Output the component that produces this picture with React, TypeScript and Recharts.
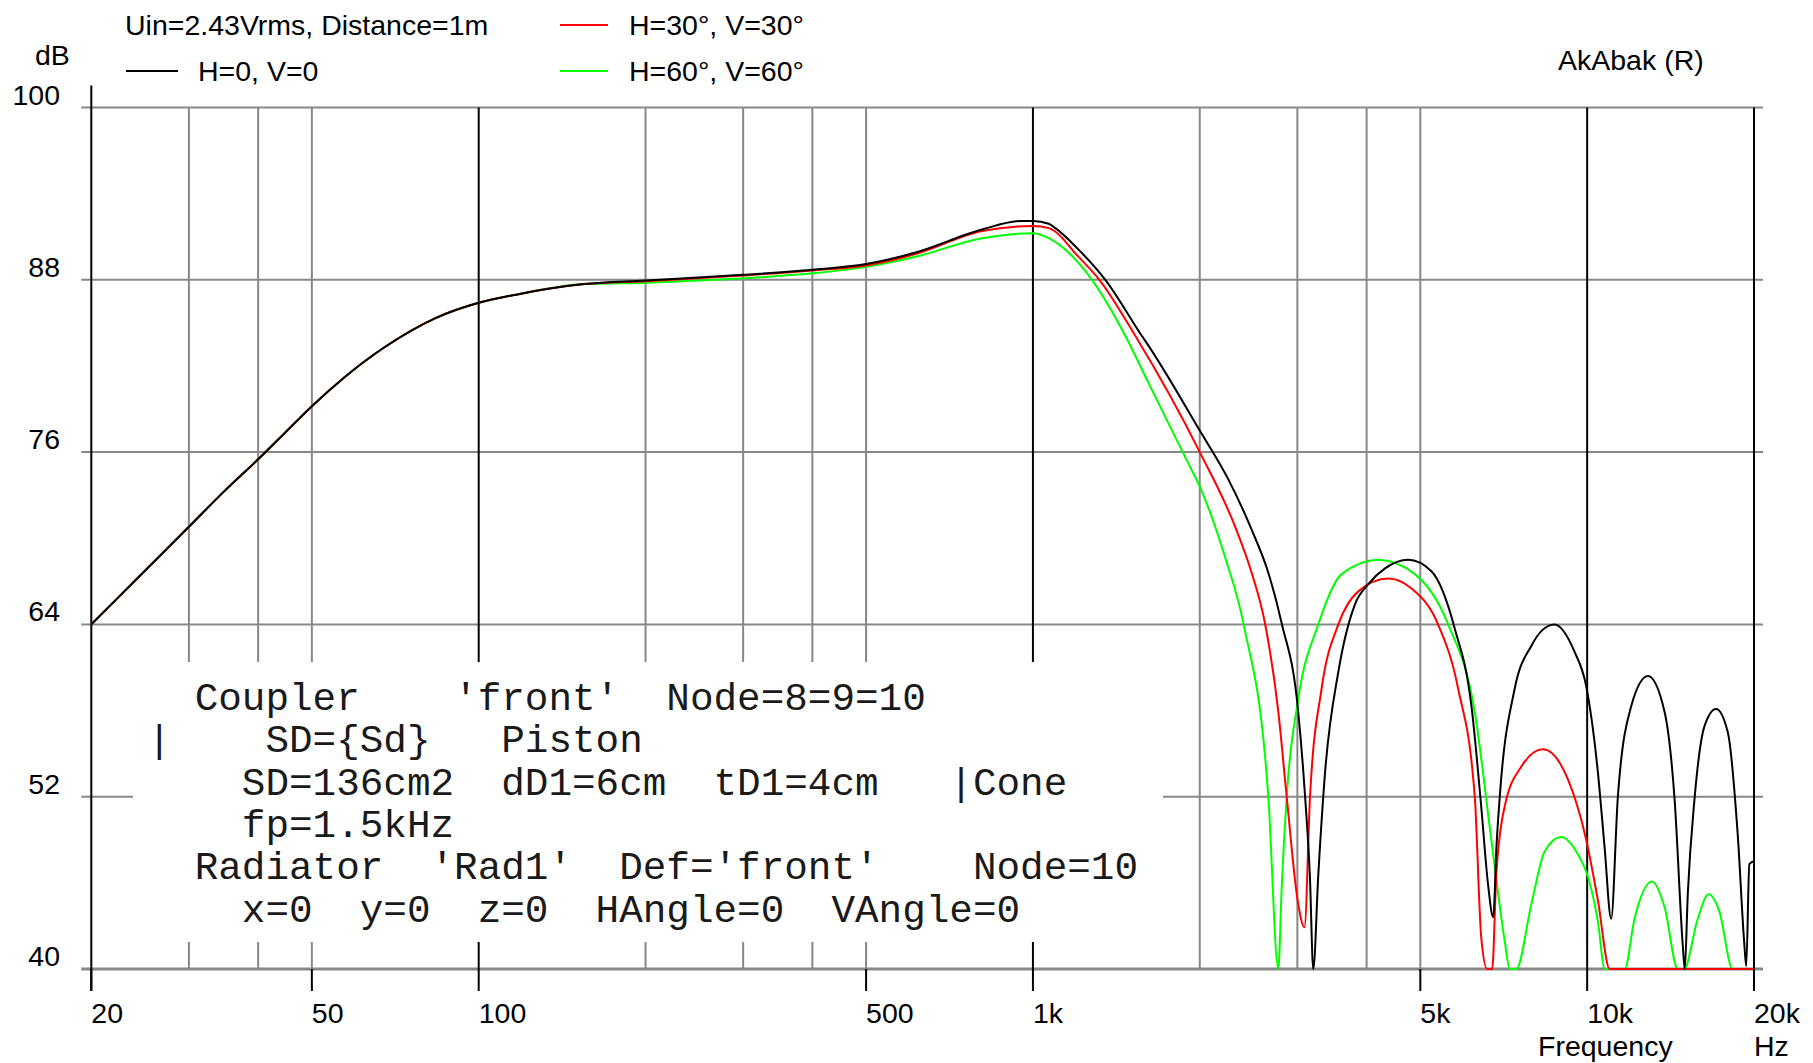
import { LineChart, Line, XAxis, YAxis, ReferenceLine } from 'recharts';

// shared low-frequency part (all three curves coincide there)
const lowFreq = [20, 22.4, 26.8, 30, 34.8, 40, 44.6, 50, 57.2, 67.6, 83.2, 100, 118, 155];
const lowDb = [64, 65.9, 68.9, 70.8, 73.3, 75.5, 77.3, 79.2, 81.2, 83.3, 85.3, 86.4, 87.0, 87.7];

// H=0, V=0
const blackFreq = [200, 300, 400, 500, 614, 809, 955, 1000, 1068, 1098, 1209, 1351, 1572, 1617, 2000, 2252, 2481, 2659, 2810, 3011, 3098, 3160, 3205, 3273, 3366, 3557, 3811, 4028, 4318, 4755, 5236, 5770, 6184, 6440, 6620, 6770, 6860, 6955, 7398, 7929, 8300, 8733, 9488, 9960, 10456, 10750, 11048, 11361, 12007, 12874, 13795, 14381, 14874, 15000, 15189, 15617, 16279, 17082, 17932, 18690, 19215, 19365, 19618, 20000];
const blackDb = [87.95, 88.35, 88.7, 89.1, 89.9, 91.5, 92.1, 92.1, 91.9, 91.6, 90.1, 88.0, 84.1, 83.4, 77.5, 74.1, 70.6, 67.6, 64.1, 57.9, 52, 46.5, 40, 46.6, 53.7, 60.7, 65.4, 66.8, 67.9, 68.5, 67.7, 63.7, 58.3, 51.3, 46, 43.6, 48.5, 52, 59.5, 62.5, 63.6, 64, 62.1, 59.7, 53.7, 48.5, 43.5, 52, 58.3, 60.4, 57.9, 51.8, 41.7, 40, 45.2, 51.8, 56.9, 58.1, 56.5, 49.4, 41.7, 40.2, 47.3, 47.5];

// H=30, V=30
const redFreq = [200, 300, 400, 500, 614, 809, 1000, 1068, 1209, 1318, 1530, 2000, 2317, 2481, 2622, 2772, 2870, 3011, 3090, 3162, 3317, 3557, 3864, 4377, 4819, 5383, 5853, 6269, 6440, 6600, 6740, 6857, 7097, 7608, 8323, 9233, 9960, 10456, 10982, 20000];
const redDb = [87.9, 88.3, 88.65, 89.0, 89.8, 91.4, 91.75, 91.6, 89.6, 88.0, 84.1, 76.0, 70.8, 67.6, 64.1, 57.9, 52, 44.5, 42.9, 52, 59.5, 64, 66.3, 67.2, 66.5, 64, 59.5, 52, 42.2, 40, 40, 46.6, 51.3, 54.1, 55.3, 53.2, 49.0, 44.8, 40, 40];

// H=60, V=60
const greenFreq = [200, 300, 400, 500, 614, 809, 1000, 1068, 1128, 1278, 1468, 1617, 1908, 2000, 2221, 2400, 2659, 2772, 2810, 2870, 3011, 3273, 3605, 4197, 4887, 5613, 6269, 6716, 7097, 7250, 7450, 7929, 8385, 8975, 9621, 10000, 10456, 10757, 11686, 12174, 13089, 13795, 14577, 14955, 15834, 16551, 17323, 18301, 20000];
const greenDb = [87.8, 88.1, 88.45, 88.9, 89.6, 90.9, 91.25, 90.9, 90.3, 88.0, 84.1, 80.8, 75.2, 73.6, 68.7, 64, 52, 40, 45.5, 52, 58.8, 64, 67.5, 68.5, 67.5, 64, 57.9, 49, 42, 40, 40, 44.5, 48.2, 49.2, 48, 46.6, 43.3, 40, 40, 43.5, 46.1, 44.3, 40, 40, 43.5, 45.2, 44, 40, 40];

const xTicks = [20, 50, 100, 500, 1000, 5000, 10000, 20000];
const xTickLabels = ['20', '50', '100', '500', '1k', '5k', '10k', '20k'];
const yTicks = [40, 52, 64, 76, 88, 100];
const grayGridFreqs = [30, 40, 50, 200, 300, 400, 500, 2000, 3000, 4000, 5000];
const blackGridFreqs = [100, 1000, 10000, 20000];

const textLines = [
  "Coupler    'front'  Node=8=9=10",
  "|    SD={Sd}   Piston",
  "  SD=136cm2  dD1=6cm  tD1=4cm   |Cone",
  '  fp=1.5kHz',
  "Radiator  'Rad1'  Def='front'    Node=10",
  '  x=0  y=0  z=0  HAngle=0  VAngle=0',
];
const textLineCols = [0, -2, 0, 0, 0, 0];

const toRows = (fs: number[], ds: number[]) => fs.map((f, i) => ({ f, db: ds[i] }));
const blackData = toRows([...lowFreq, ...blackFreq], [...lowDb, ...blackDb]);
const redData = toRows([...lowFreq, ...redFreq], [...lowDb, ...redDb]);
const greenData = toRows([...lowFreq, ...greenFreq], [...lowDb, ...greenDb]);

const SANS = "'Liberation Sans', Arial, sans-serif";
const MONO = "'Liberation Mono', 'Courier New', monospace";
const FS = 28.5;

const W = 1813;
const H = 1063;

function XTick(props: any) {
  const idx = xTicks.indexOf(props.payload.value);
  return (
    <text x={props.x} y={1023} fontFamily={SANS} fontSize={FS} fill="#000" textAnchor="start">
      {xTickLabels[idx]}
    </text>
  );
}

function YTick(props: any) {
  return (
    <text x={60} y={props.y - 3} fontFamily={SANS} fontSize={FS} fill="#000" textAnchor="end">
      {props.payload.value}
    </text>
  );
}

const hLine = (width: number) => (p: any) => (
  <line x1={Math.min(p.x1, p.x2) - 10} y1={p.y1} x2={Math.max(p.x1, p.x2) + 9} y2={p.y2} stroke="#888" strokeWidth={width} />
);

// left axis: runs a little above the top gridline and down as the first tick
const axisLine = (p: any) => (
  <line
    x1={p.x1}
    y1={Math.min(p.y1, p.y2) - 22}
    x2={p.x2}
    y2={Math.max(p.y1, p.y2) + 22}
    stroke="#000"
    strokeWidth={2}
  />
);

export default function App() {
  const col0 = 194.7;
  const cw = 23.6;
  return (
    <div style={{ position: 'absolute', left: 0, top: 0, width: W, height: H, background: '#fff' }}>
      <LineChart
        width={W}
        height={H}
        margin={{ top: 107.5, right: 59, bottom: 34, left: 31.3 }}
        style={{ position: 'absolute', left: 0, top: 0 }}
      >
        <XAxis
          dataKey="f"
          type="number"
          scale="log"
          domain={[20, 20000]}
          allowDataOverflow
          ticks={xTicks}
          interval={0}
          height={60}
          axisLine={false}
          tickSize={22}
          tickLine={{ stroke: '#000', strokeWidth: 2 }}
          tick={<XTick />}
        />
        <YAxis
          type="number"
          domain={[40, 100]}
          ticks={yTicks}
          interval={0}
          width={60}
          axisLine={false}
          tickLine={false}
          tick={<YTick />}
        />
        {yTicks.map((v) => (
          <ReferenceLine key={'h' + v} y={v} shape={hLine(v === 40 ? 3 : 2)} />
        ))}
        {grayGridFreqs.map((f) => (
          <ReferenceLine key={'g' + f} x={f} stroke="#888" strokeWidth={2} />
        ))}
        {blackGridFreqs.map((f) => (
          <ReferenceLine key={'b' + f} x={f} stroke="#000" strokeWidth={2} />
        ))}
        <ReferenceLine x={20} shape={axisLine} />
        <Line data={greenData} dataKey="db" type="monotone" stroke="#00ff00" strokeWidth={2} dot={false} activeDot={false} isAnimationActive={false} />
        <Line data={redData} dataKey="db" type="monotone" stroke="#ff0000" strokeWidth={2} dot={false} activeDot={false} isAnimationActive={false} />
        <Line data={blackData} dataKey="db" type="monotone" stroke="#000" strokeWidth={2} dot={false} activeDot={false} isAnimationActive={false} />
      </LineChart>

      <svg width={W} height={H} style={{ position: 'absolute', left: 0, top: 0, pointerEvents: 'none' }}>
        <g fontFamily={SANS} fontSize={FS} fill="#000">
          <text x={125} y={35}>Uin=2.43Vrms, Distance=1m</text>
          <text x={35} y={65}>dB</text>
          <line x1={126} y1={71} x2={178} y2={71} stroke="#000" strokeWidth={2} />
          <text x={198} y={81}>H=0, V=0</text>
          <line x1={560} y1={25} x2={608} y2={25} stroke="#ff0000" strokeWidth={2} />
          <text x={629} y={35}>H=30°, V=30°</text>
          <line x1={560} y1={71} x2={608} y2={71} stroke="#00ff00" strokeWidth={2} />
          <text x={629} y={81}>H=60°, V=60°</text>
          <text x={1558} y={70}>AkAbak (R)</text>
          <text x={1538} y={1056}>Frequency</text>
          <text x={1754} y={1056}>Hz</text>
        </g>
        <rect x={133} y={662} width={1030} height={280} fill="#fff" />
        <g fontFamily={MONO} fontSize={39.3} fill="#1a1a1a">
          {textLines.map((t, i) => (
            <text key={i} x={col0 + textLineCols[i] * cw} y={710 + i * 42.3} xmlSpace="preserve" style={{ whiteSpace: 'pre' }}>
              {t}
            </text>
          ))}
        </g>
      </svg>
    </div>
  );
}
